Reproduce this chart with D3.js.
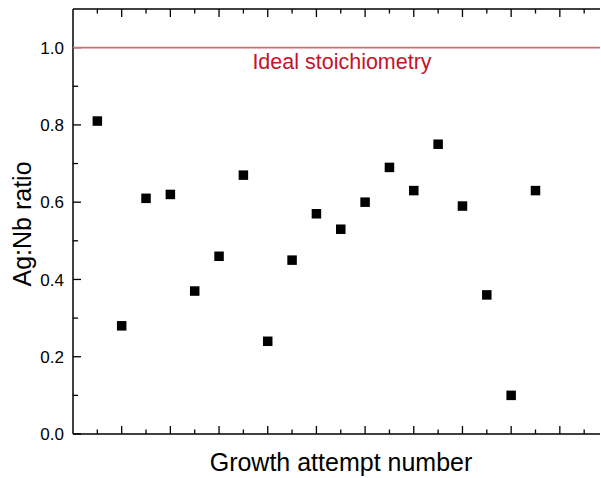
<!DOCTYPE html>
<html>
<head>
<meta charset="utf-8">
<script src="https://cdn.jsdelivr.net/npm/d3@7"></script>
<style>
  body { margin: 0; background: #fff; }
  text { font-family: Arial, "Liberation Sans", sans-serif; }
</style>
</head>
<body>
<script>
// Growth attempts and measured Ag:Nb ratio
const attempts = [1, 2, 3, 4, 5, 6, 7, 8, 9, 10, 11, 12, 13, 14, 15, 16, 17, 18, 19];
const ratios = [0.81, 0.28, 0.61, 0.62, 0.37, 0.46, 0.67, 0.24, 0.45, 0.57, 0.53, 0.60, 0.69, 0.63, 0.75, 0.59, 0.36, 0.10, 0.63];
const yTicks = [0.0, 0.2, 0.4, 0.6, 0.8, 1.0];
const idealRatio = 1.0;
const idealLabel = "Ideal stoichiometry";

const W = 601, H = 478;
const margin = { top: 9, right: 1, bottom: 44, left: 73 };
const width = W - margin.left - margin.right;
const height = H - margin.top - margin.bottom;

const svg = d3.select('body').append('svg')
  .attr('width', W)
  .attr('height', H);

const g = svg.append('g')
  .attr('transform', 'translate(' + margin.left + ',' + margin.top + ')');

const x = d3.scaleLinear().domain([0, 21.65]).range([0, width]);
const y = d3.scaleLinear().domain([0, 1.1]).range([height, 0]);

const majorX = d3.range(2, 22, 2);
const minorX = d3.range(1, 22, 2);
const minorY = [0.1, 0.3, 0.5, 0.7, 0.9];

// ticks (all pointing inward)
const tickColor = '#000';
majorX.forEach(v => {
  g.append('line').attr('x1', x(v)).attr('x2', x(v)).attr('y1', height).attr('y2', height - 8).attr('stroke', tickColor).attr('stroke-width', 1.3);
  g.append('line').attr('x1', x(v)).attr('x2', x(v)).attr('y1', 0).attr('y2', 8).attr('stroke', tickColor).attr('stroke-width', 1.3);
});
minorX.forEach(v => {
  g.append('line').attr('x1', x(v)).attr('x2', x(v)).attr('y1', height).attr('y2', height - 4.5).attr('stroke', tickColor).attr('stroke-width', 1.3);
  g.append('line').attr('x1', x(v)).attr('x2', x(v)).attr('y1', 0).attr('y2', 4.5).attr('stroke', tickColor).attr('stroke-width', 1.3);
});
yTicks.forEach(v => {
  g.append('line').attr('x1', 0).attr('x2', 8).attr('y1', y(v)).attr('y2', y(v)).attr('stroke', tickColor).attr('stroke-width', 1.3);
});
minorY.forEach(v => {
  g.append('line').attr('x1', 0).attr('x2', 5).attr('y1', y(v)).attr('y2', y(v)).attr('stroke', tickColor).attr('stroke-width', 1.3);
});

// y tick labels
g.selectAll('.ylab')
  .data(yTicks)
  .enter().append('text')
  .attr('class', 'ylab')
  .attr('x', -9)
  .attr('y', d => y(d))
  .attr('dy', '0.36em')
  .attr('text-anchor', 'end')
  .attr('font-size', '17px')
  .text(d => d.toFixed(1));

// axis lines
g.append('line').attr('x1', 0).attr('x2', width).attr('y1', height).attr('y2', height).attr('stroke', '#000').attr('stroke-width', 1.5);
g.append('line').attr('x1', 0).attr('x2', width).attr('y1', 0).attr('y2', 0).attr('stroke', '#000').attr('stroke-width', 1.5);
g.append('line').attr('x1', 0).attr('x2', 0).attr('y1', 0).attr('y2', height).attr('stroke', '#000').attr('stroke-width', 1.5);

// ideal line
g.append('line')
  .attr('x1', 0).attr('x2', width)
  .attr('y1', y(idealRatio)).attr('y2', y(idealRatio))
  .attr('stroke', '#d66a77')
  .attr('stroke-width', 1.6);

g.append('text')
  .attr('x', 342 - margin.left)
  .attr('y', y(idealRatio) + 21)
  .attr('text-anchor', 'middle')
  .attr('font-size', '21.5px')
  .attr('fill', '#c4142c')
  .text(idealLabel);

// data markers
const s = 9.5;
g.selectAll('.pt')
  .data(attempts.map((a, i) => ({ a: a, r: ratios[i] })))
  .enter().append('rect')
  .attr('class', 'pt')
  .attr('x', d => x(d.a) - s / 2)
  .attr('y', d => y(d.r) - s / 2)
  .attr('width', s)
  .attr('height', s)
  .attr('fill', '#000');

// axis titles
svg.append('text')
  .attr('x', 341)
  .attr('y', 471)
  .attr('text-anchor', 'middle')
  .attr('font-size', '25px')
  .text('Growth attempt number');

svg.append('text')
  .attr('transform', 'translate(31,224) rotate(-90)')
  .attr('text-anchor', 'middle')
  .attr('font-size', '25px')
  .text('Ag:Nb ratio');
</script>
</body>
</html>
